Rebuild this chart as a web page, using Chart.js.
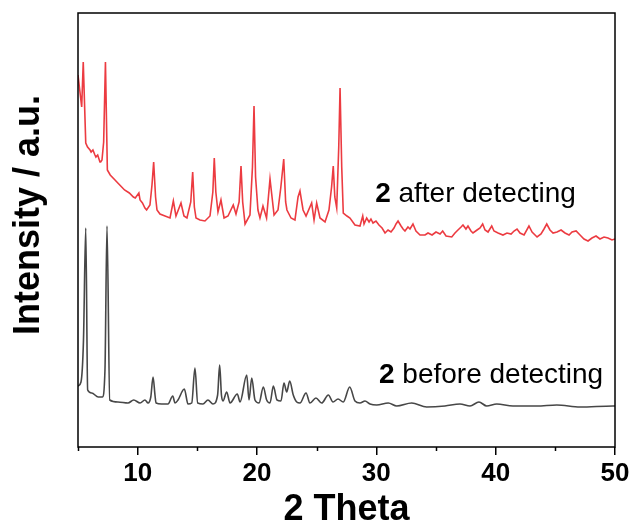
<!DOCTYPE html>
<html>
<head>
<meta charset="utf-8">
<title>PXRD of 2</title>
<script src="https://cdn.jsdelivr.net/npm/chart.js@4.4.1/dist/chart.umd.min.js"></script>
<style>
  html, body { margin: 0; padding: 0; background: #fff; }
</style>
</head>
<body>
<canvas id="xrdChart" width="636" height="532"></canvas>
<script>
// 2 theta (deg) / intensity (a.u.), offset traces
const afterTheta = [5.00, 5.31, 5.44, 5.65, 5.80, 6.01, 6.10, 6.25, 6.42, 6.50, 6.65, 6.84, 6.90, 7.01, 7.15, 7.30, 7.46, 7.70, 8.10, 8.50,
  8.90, 9.30, 9.64, 9.80, 10.10, 10.20, 10.40, 10.61, 10.75, 11.03, 11.20, 11.34, 11.50, 11.62, 11.87, 12.29, 12.71, 12.99, 13.21, 13.63,
  13.88, 14.13, 14.45, 14.61, 14.75, 14.89, 15.22, 15.64, 16.06, 16.30, 16.42, 16.55, 16.73, 16.98, 17.24, 17.57, 18.01, 18.24, 18.50, 18.66,
  18.80, 19.00, 19.41, 19.62, 19.75, 19.88, 20.08, 20.25, 20.50, 20.80, 21.09, 21.43, 21.76, 21.99, 22.24, 22.40, 22.51, 22.85, 23.18, 23.44,
  23.60, 23.86, 24.11, 24.58, 24.78, 25.00, 25.28, 25.70, 26.03, 26.25, 26.39, 26.52, 26.68, 26.85, 26.96, 27.10, 27.23, 27.54, 27.79, 28.21,
  28.63, 28.86, 28.97, 29.19, 29.39, 29.55, 29.72, 29.97, 30.22, 30.48, 30.73, 30.98, 31.23, 31.48, 31.65, 31.82, 32.07, 32.24, 32.40, 32.65,
  32.82, 33.07, 33.32, 33.66, 34.08, 34.33, 34.67, 35.00, 35.34, 35.56, 35.84, 36.32, 36.59, 36.84, 37.10, 37.26, 37.51, 37.68, 37.93, 38.10,
  38.44, 38.69, 38.91, 39.11, 39.36, 39.67, 39.86, 40.20, 40.61, 40.95, 41.29, 41.54, 41.79, 42.04, 42.38, 42.79, 43.05, 43.47, 43.80, 44.05,
  44.28, 44.55, 44.81, 45.14, 45.48, 45.81, 46.15, 46.40, 46.74, 47.07, 47.40, 47.74, 48.07, 48.41, 48.74, 49.08, 49.41, 49.75, 50.00];
const afterCounts = [372, 340, 385, 304, 300, 297, 295, 297, 292, 290, 292, 285, 285, 287, 305, 385, 277, 272, 267, 262,
  257, 254, 250, 249, 254, 247, 244, 239, 237, 242, 262, 285, 250, 237, 233, 231, 229, 246, 231, 244,
  231, 229, 245, 275, 240, 229, 227, 226, 231, 255, 289, 255, 235, 247, 229, 231, 242, 233, 245, 281,
  245, 223, 232, 280, 341, 270, 237, 229, 241, 229, 268, 232, 237, 259, 288, 245, 237, 229, 227, 250,
  256, 237, 231, 244, 227, 244, 229, 225, 237, 260, 281, 250, 239, 300, 359, 280, 234, 231, 229, 222,
  221, 231, 223, 229, 225, 228, 224, 226, 222, 219, 214, 217, 215, 219, 223, 226, 221, 218, 216, 220,
  218, 223, 216, 212, 212, 214, 212, 215, 213, 216, 211, 210, 214, 217, 220, 222, 218, 221, 216, 214,
  217, 219, 223, 217, 215, 221, 216, 214, 212, 214, 213, 216, 218, 214, 212, 221, 215, 210, 213, 218,
  223, 217, 214, 215, 217, 214, 212, 215, 216, 212, 208, 206, 209, 211, 208, 210, 209, 207, 208];

const beforeTheta = [5.00, 5.25, 5.46, 5.65, 5.81, 6.15, 6.70, 7.04, 7.26, 7.43, 7.66, 8.35, 9.19, 9.67, 10.20, 10.61, 10.87, 11.10, 11.29, 11.45,
  11.54, 12.01, 12.54, 12.94, 13.13, 13.38, 13.91, 14.22, 14.53, 14.80, 15.03, 15.47, 15.89, 16.31, 16.70, 16.87, 17.02, 17.15, 17.46, 17.74,
  18.35, 18.58, 19.14, 19.33, 19.56, 19.83, 20.17, 20.53, 20.81, 21.09, 21.37, 21.68, 22.01, 22.26, 22.49, 22.74, 23.04, 23.33, 23.60, 24.11,
  24.44, 24.94, 25.42, 25.98, 26.37, 26.79, 27.23, 27.77, 28.21, 28.63, 29.05, 29.47, 30.03, 31.00, 31.71, 32.96, 34.22, 35.75, 37.01, 37.85,
  38.60, 39.25, 40.09, 41.45, 43.44, 45.12, 47.07, 49.83, 50.00];
const beforeCounts = [61, 65, 107, 219, 57, 54, 50, 50, 77, 221, 47, 45, 44, 47, 44, 47, 44, 50, 70, 52,
  44, 43, 43, 51, 44, 47, 58, 43, 44, 79, 44, 43, 47, 43, 52, 82, 52, 46, 55, 44,
  53, 45, 72, 47, 69, 47, 44, 60, 47, 44, 61, 47, 46, 64, 55, 66, 52, 45, 44, 54,
  44, 49, 44, 52, 45, 48, 45, 60, 46, 44, 46, 43, 42, 44, 41, 44, 40, 41, 43, 41,
  45, 41, 43, 41, 41, 42, 40, 41, 41];

const xTickLabels = [10, 20, 30, 40, 50];
const xMinorTicks = [5, 15, 25, 35, 45];
const seriesNames = ['after detecting', 'before detecting'];
const seriesColors = ['#ec3b41', '#474747'];

const fontFamily = "Arial, 'Liberation Sans', sans-serif";

function toPoints(xs, ys) {
  return xs.map((x, i) => ({ x: x, y: ys[i] }));
}

// frame, minor ticks, y title and the two trace labels
const decorPlugin = {
  id: 'decor',
  afterDraw(chart) {
    const ctx = chart.ctx;
    const area = chart.chartArea;
    const xs = chart.scales.x;
    const ys = chart.scales.y;
    ctx.save();

    ctx.strokeStyle = '#000';
    ctx.lineWidth = 1.5;
    ctx.strokeRect(area.left, area.top, area.right - area.left, area.bottom - area.top);

    xMinorTicks.forEach(v => {
      const px = Math.round(xs.getPixelForValue(v)) + 0.5;
      ctx.beginPath();
      ctx.moveTo(px, area.bottom);
      ctx.lineTo(px, area.bottom + 4);
      ctx.stroke();
    });

    ctx.fillStyle = '#000';
    ctx.translate(29, 215);
    ctx.rotate(-Math.PI / 2);
    ctx.font = 'bold 36px ' + fontFamily;
    ctx.textAlign = 'center';
    ctx.textBaseline = 'middle';
    ctx.fillText('Intensity / a.u.', 0, 0);
    ctx.setTransform(1, 0, 0, 1, 0, 0);

    const labelAt = [[29.9, 245], [30.22, 64]];
    ctx.textAlign = 'left';
    ctx.textBaseline = 'alphabetic';
    seriesNames.forEach((name, i) => {
      const px = xs.getPixelForValue(labelAt[i][0]);
      const py = ys.getPixelForValue(labelAt[i][1]);
      ctx.font = 'bold 28px ' + fontFamily;
      ctx.fillText('2', px, py);
      const w = ctx.measureText('2 ').width;
      ctx.font = '28px ' + fontFamily;
      ctx.fillText(name, px + w, py);
    });
    ctx.restore();
  }
};

const xrdChart = new Chart(document.getElementById('xrdChart').getContext('2d'), {
  type: 'line',
  data: {
    datasets: [
      {
        label: '2 ' + seriesNames[0],
        data: toPoints(afterTheta, afterCounts),
        borderColor: seriesColors[0],
        borderWidth: 1.6,
        pointRadius: 0,
        tension: 0
      },
      {
        label: '2 ' + seriesNames[1],
        data: toPoints(beforeTheta, beforeCounts),
        borderColor: seriesColors[1],
        borderWidth: 1.6,
        pointRadius: 0,
        cubicInterpolationMode: 'monotone'
      }
    ]
  },
  options: {
    responsive: false,
    animation: false,
    devicePixelRatio: 1,
    layout: { padding: { top: 13, right: 21, left: 0, bottom: 0 } },
    plugins: { legend: { display: false }, tooltip: { enabled: false } },
    scales: {
      x: {
        type: 'linear',
        min: 5,
        max: 50,
        afterBuildTicks: s => { s.ticks = xTickLabels.map(v => ({ value: v })); },
        afterFit: s => { s.height = 85; },
        grid: { drawOnChartArea: false, drawTicks: true, tickLength: 8, color: '#000', lineWidth: 1.5 },
        border: { display: false },
        ticks: { color: '#000', padding: 3, maxRotation: 0, autoSkip: false,
          font: { family: fontFamily, size: 26, weight: 'bold' } },
        title: { display: true, text: '2 Theta', color: '#000', padding: { top: 0, bottom: 0 },
          font: { family: fontFamily, size: 36, weight: 'bold' } }
      },
      y: {
        min: 0,
        max: 434,
        afterFit: s => { s.width = 78; },
        ticks: { display: false },
        grid: { display: false },
        border: { display: false }
      }
    }
  },
  plugins: [decorPlugin]
});
</script>
</body>
</html>
